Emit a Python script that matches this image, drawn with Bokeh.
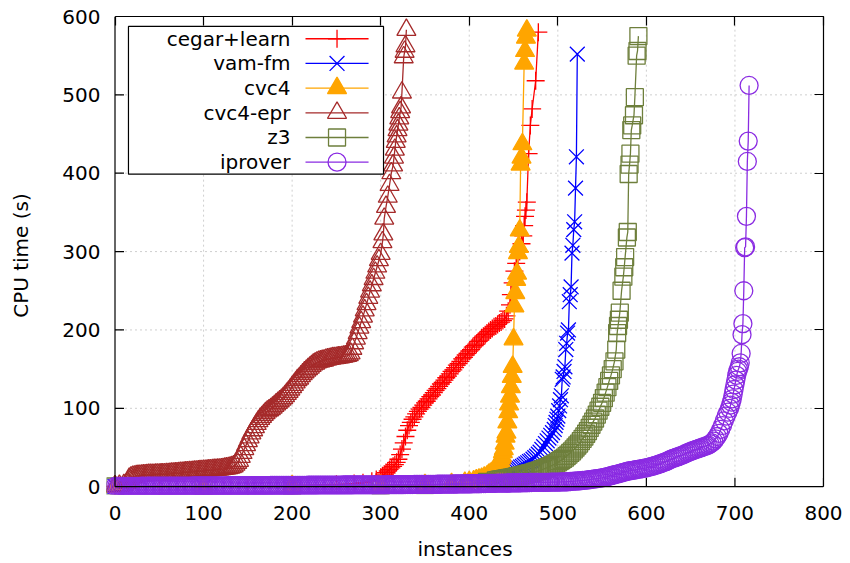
from bokeh.plotting import figure
from bokeh.models import LinearAxis, FixedTicker, CustomJSTickFormatter
from bokeh.core.properties import value
from bokeh.embed import file_html
from bokeh.resources import INLINE

# ---------------- data ----------------
names = ["cegar+learn", "vam-fm", "cvc4", "cvc4-epr", "z3", "iprover"]
x_ticks = [0, 100, 200, 300, 400, 500, 600, 700, 800]
y_ticks = [0, 100, 200, 300, 400, 500, 600]

# x = instance count (sorted runs), y = CPU time in seconds
cegar_x = ([0, 50, 100, 150, 200, 250, 270, 280, 290, 295] + list(range(300, 443, 2)) +
           [444, 446, 447, 449, 451, 453, 455, 457, 459, 461, 462, 463, 464, 465, 467, 469, 471, 475, 478])
cegar_y = [0.2, 0.4, 0.7, 1, 1.5, 3, 4, 5, 7, 9,
           12, 14, 16, 18, 20, 22, 24, 26, 28, 31,
           35, 41, 48, 56, 64, 72, 78, 82, 86, 89,
           93, 96, 99, 101, 104, 107, 109, 112, 115, 117,
           120, 123, 125, 128, 131, 133, 136, 139, 141, 144,
           147, 149, 152, 155, 157, 160, 163, 165, 168, 170,
           173, 175, 178, 180, 182, 185, 187, 190, 192, 194,
           196, 198, 200, 202, 204, 205, 207, 209, 210, 212,
           214, 218,
           224, 232, 245, 260, 275, 285, 293, 300, 310, 320, 333, 345, 353, 363, 425, 461, 482, 518, 580]

vam_x = ([0, 100, 200, 300, 350, 400, 420, 430, 435] + list(range(440, 497, 2)) +
         [497, 498, 499, 500, 501, 502, 503, 504, 505, 506, 507, 508, 509, 510, 511, 512, 513,
          514, 515, 516, 517, 518, 519, 520, 521, 522])
vam_y = [0.2, 0.5, 0.9, 1.5, 2.2, 3.5, 5, 8, 10,
         13, 14.5, 16, 17, 18.5, 20, 21, 22.5, 23.5, 25,
         26, 27.5, 29, 30.5, 32, 33, 35, 37, 39, 41.5,
         44, 47.5, 51, 55, 58.5, 62, 65.5, 69, 73,
         78, 82, 86, 90, 97, 103, 111, 116, 137, 140, 147, 153, 175, 183, 196, 200, 236,
         245, 255, 298, 308, 328, 338, 381, 421, 552]

cvc4_x = [0, 100, 200, 300, 350, 380, 395, 400, 405, 408, 411, 414, 417, 420, 422, 424, 426, 428,
          430, 431, 432, 433, 434, 435, 436, 437,
          438, 439, 440, 441, 442, 443, 444, 445, 446, 447, 448, 449, 450, 451, 452, 453, 454,
          455, 456, 457, 458, 459, 460, 462, 463, 464, 465]
cvc4_y = [0.2, 0.4, 0.7, 1.2, 2, 3.5, 5, 6, 7, 8, 9, 10, 11.5, 13, 15, 16.5, 18, 20,
          22.5, 24, 26, 28, 30.5, 33, 36, 39,
          44, 48, 55, 64, 69, 82, 95, 105, 115, 127, 140, 153, 188, 230, 247, 264, 272,
          298, 306, 327, 411, 420, 437, 540, 556, 573, 582]

epr_x = ([0, 5, 10, 14] + list(range(16, 301, 2)) +
         [302, 303, 304, 306, 308, 310, 312, 314, 315, 316, 317, 318, 319, 320, 321, 322, 323, 324,
          326, 327, 328, 329])
epr_y = [0.5, 1, 2, 5,
         10, 11.5, 12.5, 13, 13.5, 13.8, 14, 14.2, 14.4, 14.6,
         14.8, 15, 15.1, 15.2, 15.3, 15.4, 15.5, 15.6, 15.7, 15.8,
         15.9, 16, 16.2, 16.4, 16.6, 16.8, 17, 17.2, 17.4, 17.6,
         17.8, 18, 18.2, 18.4, 18.6, 18.8, 19, 19.2, 19.4, 19.6,
         19.8, 20, 20.2, 20.4, 20.6, 20.8, 21, 21.2, 21.4, 21.6,
         21.8, 22, 22.3, 22.6, 23, 23.4, 23.8, 24.3, 25, 26,
         28, 30.5, 33, 38, 43, 48, 53, 58, 63, 68,
         72, 76, 80, 83.5, 86.5, 89, 91.5, 94, 96, 97.5,
         99, 101, 103, 105, 107, 109, 111, 113, 115.5, 118.5,
         121, 124, 127, 130, 133, 136, 138, 141, 143.5, 146,
         148, 150, 152, 154, 156, 157, 158.5, 159.5, 160, 160.5,
         161, 162, 162.5, 163, 163.5, 164, 164, 164.5, 165, 165,
         165.5, 166, 166.5, 167, 168, 170, 176, 183, 189, 196,
         203, 210, 217, 225, 233, 241, 249, 257, 265, 273,
         281, 289, 297,
         312, 322, 342, 357, 370, 385, 400, 410, 420, 430, 440, 447, 455, 462, 470, 478, 484, 503,
         548, 555, 562, 583]

z3_x = ([0, 100, 200, 300, 350, 400, 420] + list(range(430, 567, 2)) +
        [567, 568, 569, 570, 572, 574, 575, 576, 578, 579, 580, 581, 582, 583, 584, 586, 587,
         589, 590, 591])
z3_y = [0.2, 0.5, 0.8, 1.3, 2, 4, 6,
        8, 8.4, 8.8, 9.2, 9.6, 10, 10.4, 10.8, 11.2, 11.6,
        12, 12.5, 13, 13.5, 14, 14.5, 15, 15.6, 16.2, 16.8,
        17.4, 18, 18.7, 19.4, 20.1, 20.8, 21.6, 22.4, 23.3, 24.2,
        25.2, 26.2, 27.3, 28.5, 29.8, 31, 32.5, 34, 35.5, 37,
        39, 41, 43, 45, 47.5, 50, 52.5, 55, 58, 61,
        64, 67.5, 71, 75, 79, 83, 87, 92, 97, 102,
        107, 113, 120, 127, 135, 142, 150, 160, 175,
        196, 205, 213, 222, 250, 268, 280, 293, 318, 325, 399, 411, 425, 455, 461, 474, 497,
        550, 556, 575]

ipr_x = list(range(0, 691, 2)) + [692, 694, 695, 696, 697, 698, 699, 700, 701, 702, 703, 704,
                                  705, 706, 707, 708, 709, 710, 711, 712, 713, 714, 715, 716]
ipr_y = [0.2, 0.2, 0.2, 0.3, 0.3, 0.3, 0.3, 0.3, 0.4, 0.4,
         0.4, 0.4, 0.4, 0.4, 0.4, 0.5, 0.5, 0.5, 0.5, 0.5,
         0.5, 0.5, 0.5, 0.5, 0.6, 0.6, 0.6, 0.6, 0.6, 0.6,
         0.6, 0.6, 0.7, 0.7, 0.7, 0.7, 0.7, 0.7, 0.8, 0.8,
         0.8, 0.8, 0.8, 0.8, 0.9, 0.9, 0.9, 0.9, 0.9, 1.0,
         1.0, 1.0, 1.0, 1.0, 1.0, 1.0, 1.1, 1.1, 1.1, 1.1,
         1.1, 1.1, 1.1, 1.1, 1.2, 1.2, 1.2, 1.2, 1.2, 1.2,
         1.2, 1.2, 1.2, 1.2, 1.2, 1.3, 1.3, 1.3, 1.3, 1.3,
         1.3, 1.3, 1.4, 1.4, 1.4, 1.4, 1.4, 1.4, 1.5, 1.5,
         1.5, 1.5, 1.5, 1.5, 1.5, 1.5, 1.6, 1.6, 1.6, 1.6,
         1.6, 1.6, 1.6, 1.7, 1.7, 1.7, 1.7, 1.7, 1.7, 1.8,
         1.8, 1.8, 1.8, 1.8, 1.8, 1.9, 1.9, 1.9, 1.9, 1.9,
         1.9, 1.9, 1.9, 2.0, 2.0, 2.0, 2.0, 2.0, 2.0, 2.1,
         2.1, 2.1, 2.1, 2.1, 2.1, 2.2, 2.2, 2.2, 2.2, 2.2,
         2.2, 2.2, 2.3, 2.3, 2.3, 2.3, 2.3, 2.3, 2.4, 2.4,
         2.4, 2.4, 2.4, 2.4, 2.5, 2.5, 2.5, 2.5, 2.5, 2.6,
         2.6, 2.6, 2.6, 2.6, 2.7, 2.7, 2.7, 2.7, 2.7, 2.8,
         2.8, 2.8, 2.8, 2.8, 2.9, 2.9, 2.9, 2.9, 3.0, 3.0,
         3.0, 3.0, 3.1, 3.1, 3.1, 3.2, 3.2, 3.2, 3.3, 3.3,
         3.3, 3.4, 3.4, 3.4, 3.5, 3.5, 3.5, 3.6, 3.6, 3.7,
         3.7, 3.7, 3.8, 3.8, 3.8, 3.9, 3.9, 4.0, 4.0, 4.0,
         4.1, 4.1, 4.2, 4.2, 4.3, 4.3, 4.4, 4.4, 4.5, 4.5,
         4.6, 4.6, 4.7, 4.7, 4.8, 4.8, 4.9, 4.9, 5.0, 5.0,
         5.1, 5.1, 5.2, 5.2, 5.3, 5.3, 5.4, 5.4, 5.5, 5.5,
         5.5, 5.5, 5.5, 5.6, 5.6, 5.6, 5.7, 5.7, 5.7, 5.8,
         5.8, 5.9, 6.0, 6.1, 6.2, 6.3, 6.5, 6.6, 6.8, 7.0,
         7.1, 7.3, 7.5, 7.7, 7.9, 8.1, 8.4, 8.7, 9.0, 9.3,
         9.6, 9.9, 10.2, 10.5, 10.9, 11.3, 11.8, 12.3, 12.8, 13.4,
         14.0, 14.6, 15.2, 15.8, 16.4, 17.0, 17.6, 18.2, 18.8, 19.4,
         20.0, 20.4, 20.8, 21.2, 21.6, 22.0, 22.4, 22.8, 23.2, 23.6,
         24.0, 24.6, 25.2, 25.8, 26.4, 27.0, 27.8, 28.6, 29.4, 30.2,
         31.0, 32.0, 33.0, 34.0, 35.0, 36.0, 36.8, 37.6, 38.4, 39.2,
         40.0, 41.0, 42.0, 43.0, 44.0, 45.0, 45.8, 46.6, 47.4, 48.2,
         49.0, 49.8, 50.6, 51.4, 52.2, 53.0, 54.5, 56.0, 58.0, 61.0,
         64, 68, 73, 78, 84, 90,
         95, 100, 104, 108, 112, 118, 124, 130, 136, 142, 147, 150, 153, 158, 170, 194, 208, 250,
         305, 306, 345, 415, 441, 512]

# ---------------- styles ----------------
colors = ["#ff0000", "#0000ff", "#ffa500", "#a52a2a", "#6e7f3c", "#8a2be2"]
markers = ["cross", "x", "triangle", "triangle", "square", "circle"]
msizes = [18, 21, 19, 19, 17, 18]
filled = [False, False, True, False, False, False]
series = [(cegar_x, cegar_y), (vam_x, vam_y), (cvc4_x, cvc4_y),
          (epr_x, epr_y), (z3_x, z3_y), (ipr_x, ipr_y)]

FONT = "DejaVu Sans"
FSIZE = "20px"
X0, X1, Y0, Y1 = 0, 800, 0, 600
# the frame reaches a little past the axes (as gnuplot lets markers spill over the border)
XPAD, YPAD = 9.6, 10
TICK_DX, TICK_DY = 10.2, 11.4   # 9 px inward ticks, expressed in data units

p = figure(width=850, height=563, x_range=(X0 - XPAD, X1), y_range=(Y0 - YPAD, Y1),
           output_backend="svg", toolbar_location=None,
           min_border_left=106, min_border_right=27, min_border_top=16, min_border_bottom=67,
           background_fill_color="white", border_fill_color="white")
p.outline_line_color = None
p.xgrid.visible = False
p.ygrid.visible = False

for ax, ticks in ((p.xaxis[0], x_ticks), (p.yaxis[0], y_ticks)):
    ax.ticker = FixedTicker(ticks=ticks)
    ax.axis_line_color = None
    ax.major_tick_line_color = None
    ax.minor_tick_line_color = None
    ax.major_tick_out = 0
    ax.major_tick_in = 0
    ax.major_label_text_font = FONT
    ax.major_label_text_font_size = FSIZE
    ax.major_label_text_color = "black"
    ax.axis_label_text_font = FONT
    ax.axis_label_text_font_size = FSIZE
    ax.axis_label_text_font_style = "normal"
    ax.axis_label_text_color = "black"

p.xaxis[0].axis_label = "instances"
p.yaxis[0].axis_label = "CPU time (s)"
p.xaxis[0].major_label_standoff = 11
p.xaxis[0].axis_label_standoff = 14
p.yaxis[0].major_label_standoff = 6
p.yaxis[0].axis_label_standoff = 26

# mirrored border + ticks on top and right
for side, ticks, bnds in (("above", x_ticks, (X0, X1)), ("right", y_ticks, (Y0, Y1))):
    ax = LinearAxis(ticker=FixedTicker(ticks=ticks), bounds=bnds,
                    formatter=CustomJSTickFormatter(code="return ''"),
                    major_tick_in=9, major_tick_out=0, minor_tick_line_color=None,
                    major_label_standoff=0, axis_line_color="black", axis_line_width=1.2,
                    major_tick_line_width=1.2)
    p.add_layout(ax, side)

# dotted grid (under the data)
gx = [t for t in x_ticks if X0 < t < X1]
gy = [t for t in y_ticks if Y0 < t < Y1]
p.segment(x0=gx, y0=[Y0] * len(gx), x1=gx, y1=[Y1] * len(gx),
          line_color="#cfcfcf", line_dash="2 3", line_width=1)
p.segment(x0=[X0] * len(gy), y0=gy, x1=[X1] * len(gy), y1=gy,
          line_color="#cfcfcf", line_dash="2 3", line_width=1)

# inward ticks on the bottom and left axes
p.segment(x0=x_ticks, y0=[Y0] * len(x_ticks), x1=x_ticks, y1=[Y0 + TICK_DY] * len(x_ticks),
          line_color="black", line_width=1.2)
p.segment(x0=[X0] * len(y_ticks), y0=y_ticks, x1=[X0 + TICK_DX] * len(y_ticks), y1=y_ticks,
          line_color="black", line_width=1.2)

for (xs, ys), c, m, s, f in zip(series, colors, markers, msizes, filled):
    p.line(xs, ys, line_color=c, line_width=1.3)
    p.scatter(xs, ys, marker=m, size=s, line_color=c, line_width=1.3,
              fill_color=c if f else None)

# border lines of the bottom and left axes (drawn in front, as gnuplot does)
p.segment(x0=[X0, X0], y0=[Y0, Y0], x1=[X1, X0], y1=[Y0, Y1], line_color="black", line_width=1.2)

# ---------------- legend (gnuplot style: text, then sample) ----------------
box_l, box_r, box_b, box_t = 15.2, 303.2, 398.8, 587.3
txt_x = 198.2
smp_l, smp_r, smp_m = 215.1, 286.3, 250.7
row0, drow = 571.6, 31.5

p.quad(left=[box_l], right=[box_r], bottom=[box_b], top=[box_t],
       fill_color="white", line_color="black", line_width=1.2)
for i, (n, c, m, s, f) in enumerate(zip(names, colors, markers, msizes, filled)):
    yy = row0 - i * drow
    p.text(x=[txt_x], y=[yy], text=[n], text_align="right", text_baseline="middle",
           text_font=value(FONT), text_font_size=value(FSIZE), text_color="black")
    p.line([smp_l, smp_r], [yy, yy], line_color=c, line_width=1.3)
    p.scatter([smp_m], [yy], marker=m, size=s, line_color=c, line_width=1.3,
              fill_color=c if f else None)

open("out.html", "w").write(file_html(p, INLINE))
